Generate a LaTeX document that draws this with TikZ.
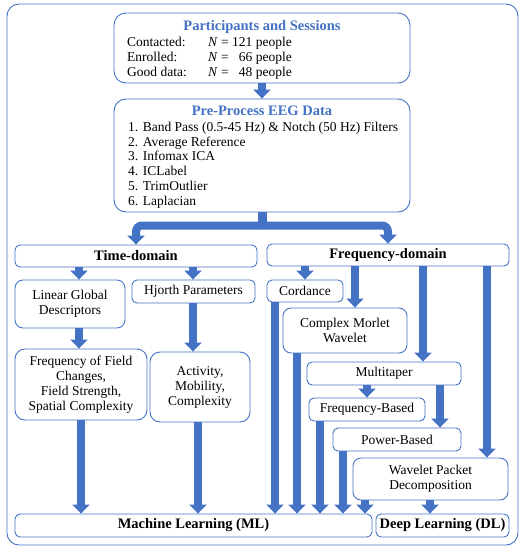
\documentclass[tikz,border=0pt]{standalone}
\usepackage{fontspec}
\setmainfont{Liberation Serif}
\usetikzlibrary{arrows.meta}
\definecolor{eegblue}{HTML}{4472C4}
\begin{document}
\begin{tikzpicture}[x=1pt,y=-1pt,
  box/.style={draw=eegblue, line width=0.9pt, rounded corners=5pt, inner sep=0pt, align=center,
    font=\fontsize{13.5}{15}\selectfont, fill=white},
  hdr/.style={box, font=\fontsize{14.5}{16}\selectfont\bfseries},
  txt/.style={inner sep=0pt, anchor=base west, font=\fontsize{13.5}{15}\selectfont},
  ttl/.style={inner sep=0pt, anchor=base, text=eegblue, font=\fontsize{14.5}{16}\selectfont\bfseries},
  bigarrow/.style={draw=eegblue, line width=8pt, -{Triangle[width=17pt,length=9pt]}},
  stem/.style={draw=eegblue, line width=9pt}]
\useasboundingbox (0,0) rectangle (522,550);
\fill[white] (0,0) rectangle (522,550);
% outer frame
\node[draw=eegblue, line width=0.9pt, rounded corners=12pt, inner sep=0pt,
  minimum width=511pt, minimum height=541pt] (frame) at (262.5,274.5) {};
% participants
\node[box, rounded corners=12pt, minimum width=296pt, minimum height=70pt] (part) at (262,48) {};
\node[ttl] (partt) at (262,30) {Participants and Sessions};
\node[txt] (c1) at (127,46.7) {Contacted:};
\node[txt] (c2) at (127,61.4) {Enrolled:};
\node[txt] (c3) at (127,76) {Good data:};
\node[txt] (n1) at (208,46.7) {\textit{N} = 121 people};
\node[txt] (n2) at (208,61.4) {\textit{N} = \phantom{1}66 people};
\node[txt] (n3) at (208,76) {\textit{N} = \phantom{1}48 people};
% pre-process
\node[box, rounded corners=12pt, minimum width=296pt, minimum height=113pt] (pp) at (262,155.5) {};
\node[ttl] (ppt) at (262,115) {Pre-Process EEG Data};
\node[txt] (p1) at (128,131.5) {1. Band Pass (0.5-45 Hz) \& Notch (50 Hz) Filters};
\node[txt] (p2) at (128,146.2) {2. Average Reference};
\node[txt] (p3) at (128,160.9) {3. Infomax ICA};
\node[txt] (p4) at (128,175.6) {4. ICLabel};
\node[txt] (p5) at (128,190.3) {5. TrimOutlier};
\node[txt] (p6) at (128,205) {6. Laplacian};
% domains
\node[hdr, minimum width=242pt, minimum height=22pt] (td) at (136,256) {Time-domain};
\node[hdr, minimum width=242pt, minimum height=22pt] (fd) at (388,255) {Frequency-domain};
% time side
\node[box, rounded corners=8pt, minimum width=110pt, minimum height=48pt] (lgd) at (70,304) {Linear Global\\Descriptors};
\node[box, minimum width=123pt, minimum height=23pt] (hj) at (193.5,291.5) {Hjorth Parameters};
\node[box, rounded corners=10pt, minimum width=132pt, minimum height=71pt] (ffc) at (81,384.5)
  {Frequency of Field\\Changes,\\Field Strength,\\Spatial Complexity};
\node[box, rounded corners=10pt, minimum width=100pt, minimum height=70pt] (act) at (200,387)
  {Activity,\\Mobility,\\Complexity};
% frequency side
\node[box, minimum width=76pt, minimum height=22pt] (cord) at (305,291) {Cordance};
\node[box, rounded corners=8pt, minimum width=124pt, minimum height=45pt] (cmw) at (345,330.5) {Complex Morlet\\Wavelet};
\node[box, minimum width=154pt, minimum height=23pt] (mt) at (384,373.5) {Multitaper};
\node[box, minimum width=116pt, minimum height=23pt] (fb) at (367,409.5) {Frequency-Based};
\node[box, minimum width=128pt, minimum height=23pt] (pb) at (397,439.5) {Power-Based};
\node[box, rounded corners=8pt, minimum width=155pt, minimum height=42pt] (wpd) at (430.5,479) {Wavelet Packet\\Decomposition};
% learning
\node[hdr, minimum width=357pt, minimum height=23pt] (ml) at (193.5,525.5) {Machine Learning (ML)};
\node[hdr, minimum width=133pt, minimum height=23pt] (dl) at (442.5,525.5) {Deep Learning (DL)};
% x positions of arrows
\coordinate (xa) at (79,0);
\coordinate (xb) at (193,0);
\coordinate (xc) at (81,0);
\coordinate (xd) at (198,0);
\coordinate (xe) at (305,0);
\coordinate (xf) at (355,0);
\coordinate (xg) at (423,0);
\coordinate (xh) at (487,0);
\coordinate (xi) at (275,0);
\coordinate (xj) at (297,0);
\coordinate (xk) at (367,0);
\coordinate (xl) at (440,0);
\coordinate (xm) at (320,0);
\coordinate (xn) at (343,0);
\coordinate (xo) at (365,0);
\coordinate (xp) at (430,0);
\coordinate (fork) at (262,225.5);
% arrows
\draw[bigarrow] (part.south) -- (pp.north);
\draw[stem] (pp.south) -- (fork);
\draw[bigarrow, rounded corners=6pt] (fork) -| (td.north);
\draw[bigarrow, rounded corners=6pt] (fork) -| (fd.north);
\draw[bigarrow] (td.south -| xa) -- (lgd.north -| xa);
\draw[bigarrow] (td.south -| xb) -- (hj.north -| xb);
\draw[bigarrow] (lgd.south -| xa) -- (ffc.north -| xa);
\draw[bigarrow] (hj.south -| xb) -- (act.north -| xb);
\draw[bigarrow] (ffc.south -| xc) -- (ml.north -| xc);
\draw[bigarrow] (act.south -| xd) -- (ml.north -| xd);
\draw[bigarrow] (fd.south -| xe) -- (cord.north -| xe);
\draw[bigarrow] (fd.south -| xf) -- (cmw.north -| xf);
\draw[bigarrow] (fd.south -| xg) -- (mt.north -| xg);
\draw[bigarrow] (fd.south -| xh) -- (wpd.north -| xh);
\draw[bigarrow] (cord.south -| xi) -- (ml.north -| xi);
\draw[bigarrow] (cmw.south -| xj) -- (ml.north -| xj);
\draw[bigarrow] (mt.south -| xk) -- (fb.north -| xk);
\draw[bigarrow] (mt.south -| xl) -- (pb.north -| xl);
\draw[bigarrow] (fb.south -| xm) -- (ml.north -| xm);
\draw[bigarrow] (pb.south -| xn) -- (ml.north -| xn);
\draw[bigarrow] (wpd.south -| xo) -- (ml.north -| xo);
\draw[bigarrow] (wpd.south -| xp) -- (dl.north -| xp);
\end{tikzpicture}
\end{document}
